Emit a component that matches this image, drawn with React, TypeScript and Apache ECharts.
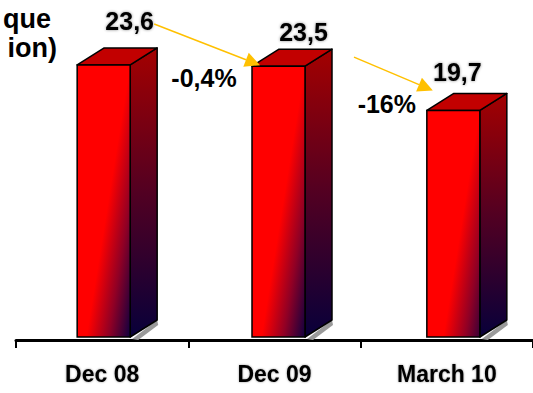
import React, { useEffect, useRef } from "react";
import * as echarts from "echarts";

// Chart data
const categories = ["Dec 08", "Dec 09", "March 10"];
const values = [23.6, 23.5, 19.7];
const changes = ["", "-0,4%", "-16%"];
const titleLines = ["que", "ion)"];

const FONT = '"Liberation Sans", Arial, Helvetica, sans-serif';

// 3D column geometry (pixels)
const FRONT_W = 53;
const DEPTH_X = 27;
const DEPTH_Y = -17;
const FLOOR_LIFT = 3;
const PERSPECTIVE_DRIFT = 2.5;

// Value label placement relative to the column's front/top
const valueLabelShift = [
  [26, -27],
  [25, -17],
  [4, -21],
];
// Change arrows: start relative to previous column, end relative to this column
const arrowStart = [null, [77, -41], [102, -9]];
const arrowEnd = [null, [8, -1], [6, -20]];
const changeLabelShift = [null, [-48, 12], [-40, -6]];

const fmt = (v: number) => v.toFixed(1).replace(".", ",");

function frontTopLeft(api: any, i: number) {
  const p = api.coord([i, values[i]]);
  return [p[0] - 25 + PERSPECTIVE_DRIFT * i, p[1]];
}

function renderItem(params: any, api: any) {
  const i = api.value(0) as number;
  const v = api.value(1) as number;
  const top = api.coord([i, v]);
  const zero = api.coord([i, 0]);
  const x0 = top[0] - 25 + PERSPECTIVE_DRIFT * i;
  const x1 = x0 + FRONT_W;
  const y0 = top[1];
  const yb = zero[1] - FLOOR_LIFT;

  const frontFill = new echarts.graphic.LinearGradient(
    x0,
    y0,
    x0 + 93.6,
    y0 + 15,
    [
      { offset: 0, color: "#ff0000" },
      { offset: 0.55, color: "#ff0000" },
      { offset: 0.78, color: "#900025" },
      { offset: 1, color: "#120040" },
    ],
    true
  );
  const sideFill = new echarts.graphic.LinearGradient(0, 0, 0, 1, [
    { offset: 0, color: "#a40000" },
    { offset: 0.5, color: "#520022" },
    { offset: 1, color: "#08003a" },
  ]);

  const children: any[] = [
    {
      type: "polygon",
      shape: {
        points: [
          [x1 + 2, yb + 2],
          [x1 + DEPTH_X, yb + DEPTH_Y],
          [x1 + DEPTH_X + 1, yb + DEPTH_Y + 5],
          [x1 + 8, yb + 3],
        ],
      },
      style: { fill: "#9a9a9a" },
    },
    {
      type: "polygon",
      shape: {
        points: [
          [x1, y0],
          [x1 + DEPTH_X, y0 + DEPTH_Y],
          [x1 + DEPTH_X, yb + DEPTH_Y],
          [x1, yb],
        ],
      },
      style: { fill: sideFill, stroke: "#000", lineWidth: 1.5, lineJoin: "round" },
    },
    {
      type: "polygon",
      shape: {
        points: [
          [x0, y0],
          [x0 + DEPTH_X, y0 + DEPTH_Y],
          [x1 + DEPTH_X, y0 + DEPTH_Y],
          [x1, y0],
        ],
      },
      style: { fill: "#c20000", stroke: "#000", lineWidth: 1.5, lineJoin: "round" },
    },
    {
      type: "rect",
      shape: { x: x0, y: y0, width: FRONT_W, height: yb - y0 },
      style: { fill: frontFill, stroke: "#000", lineWidth: 1.5 },
    },
    {
      type: "text",
      style: {
        text: fmt(v),
        x: x0 + FRONT_W / 2 + valueLabelShift[i][0],
        y: y0 + DEPTH_Y + valueLabelShift[i][1],
        align: "center",
        verticalAlign: "middle",
        fontSize: 25,
        fontWeight: "bold",
        fontFamily: FONT,
        fill: "#000",
        textShadowColor: "rgba(0,0,0,0.45)",
        textShadowBlur: 3,
      },
    },
  ];

  if (i > 0 && arrowStart[i] && arrowEnd[i]) {
    const prev = frontTopLeft(api, i - 1);
    const sx = prev[0] + (arrowStart[i] as number[])[0];
    const sy = prev[1] + (arrowStart[i] as number[])[1];
    const ex = x0 + (arrowEnd[i] as number[])[0];
    const ey = y0 + (arrowEnd[i] as number[])[1];
    const len = Math.hypot(ex - sx, ey - sy);
    const ux = (ex - sx) / len;
    const uy = (ey - sy) / len;
    const headL = 15;
    const headW = 7.5;
    const bx = ex - ux * headL;
    const by = ey - uy * headL;
    children.push(
      {
        type: "line",
        shape: { x1: sx, y1: sy, x2: bx, y2: by },
        style: { stroke: "#FFC000", lineWidth: 1.5 },
      },
      {
        type: "polygon",
        shape: {
          points: [
            [ex, ey],
            [bx - uy * headW, by + ux * headW],
            [bx + uy * headW, by - ux * headW],
          ],
        },
        style: { fill: "#FFC000" },
      },
      {
        type: "text",
        style: {
          text: changes[i],
          x: x0 + (changeLabelShift[i] as number[])[0],
          y: y0 + (changeLabelShift[i] as number[])[1],
          align: "center",
          verticalAlign: "middle",
          fontSize: 25,
          fontWeight: "bold",
          fontFamily: FONT,
          fill: "#000",
        },
      }
    );
  }

  return { type: "group", children };
}

export default function App() {
  const ref = useRef<HTMLDivElement>(null);

  useEffect(() => {
    if (!ref.current) return;
    const chart = echarts.init(ref.current, undefined, { renderer: "svg" });
    chart.setOption({
      animation: false,
      backgroundColor: "#ffffff",
      grid: { left: 16, top: 37, width: 523.5, bottom: 53, containLabel: false },
      xAxis: {
        type: "category",
        data: categories,
        boundaryGap: true,
        axisLine: { lineStyle: { color: "#000", width: 3 } },
        axisTick: { show: true, length: 8, lineStyle: { color: "#000", width: 2 } },
        axisLabel: {
          color: "#000",
          fontSize: 23,
          fontWeight: "bold",
          fontFamily: FONT,
          margin: 22,
          textShadowColor: "rgba(0,0,0,0.4)",
          textShadowBlur: 2,
        },
        splitLine: { show: false },
      },
      yAxis: { type: "value", min: 0, max: 26, show: false },
      series: [
        {
          type: "custom",
          renderItem,
          clip: false,
          data: values.map((v, i) => [i, v]),
          encode: { x: 0, y: 1 },
        },
      ],
      graphic: [
        {
          type: "text",
          x: 51,
          y: 19,
          style: {
            text: titleLines[0],
            align: "right",
            verticalAlign: "middle",
            fontSize: 27,
            fontWeight: "bold",
            fontFamily: FONT,
            fill: "#000",
          },
        },
        {
          type: "text",
          x: 57,
          y: 48,
          style: {
            text: titleLines[1],
            align: "right",
            verticalAlign: "middle",
            fontSize: 27,
            fontWeight: "bold",
            fontFamily: FONT,
            fill: "#000",
          },
        },
      ],
    });
    return () => chart.dispose();
  }, []);

  return (
    <div
      ref={ref}
      style={{ position: "fixed", left: 0, top: 0, width: 533, height: 393, background: "#fff" }}
    />
  );
}
